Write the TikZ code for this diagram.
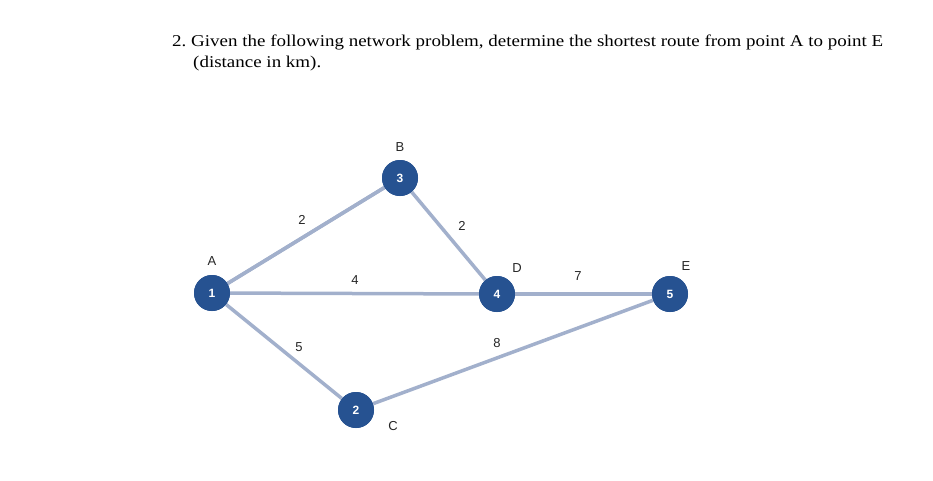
\documentclass[tikz,border=0pt]{standalone}
\usepackage{fontspec}
\setmainfont{Liberation Serif}
\newfontfamily\lsans{Liberation Sans}
\definecolor{nodeblue}{RGB}{38,82,145}
\definecolor{edgeblue}{RGB}{162,176,204}
\begin{document}
\begin{tikzpicture}[x=1pt,y=-1pt,
  vtx/.style={circle,fill=nodeblue,minimum size=36pt,inner sep=0pt,text=white,font=\lsans\bfseries\fontsize{12}{14}\selectfont},
  edge/.style={draw=edgeblue,line width=3.5pt},
  lbl/.style={font=\lsans\fontsize{13}{15}\selectfont,text=black!85},
  ttl/.style={anchor=base west,font=\fontsize{16.5}{19}\selectfont,xscale=1.15,inner sep=0pt}]
\useasboundingbox[fill=white] (0,0) rectangle (933,480);
\node[ttl] (t1) at (172,46) {2.\ Given the following network problem, determine the shortest route from point A to point E};
\node[ttl] (t2) at (193,67) {(distance in km).};
\draw[edge] (212,293) -- (400,178);
\node[vtx] (n1) at (212,293) {1};
\node[vtx] (n3) at (400,178) {3};
\node[vtx] (n4) at (497,294) {4};
\node[vtx] (n5) at (670,294) {5};
\node[vtx] (n2) at (356,410) {2};
\draw[edge] (n1) -- (n3);
\draw[edge] (n1) -- (n4);
\draw[edge] (n1) -- (n2);
\draw[edge] (n3) -- (n4);
\draw[edge] (n4) -- (n5);
\draw[edge] (n2) -- (n5);
\node[vtx] at (n1) {1};
\node[vtx] at (n3) {3};
\node[vtx] at (n4) {4};
\node[vtx] at (n5) {5};
\node[vtx] at (n2) {2};
\node[lbl] (lb) at (400,147) {B};
\node[lbl] (la) at (212,261) {A};
\node[lbl] (ld) at (517,268) {D};
\node[lbl] (le) at (686,266) {E};
\node[lbl] (lc) at (393,426) {C};
\node[lbl] (w13) at (302,220) {2};
\node[lbl] (w34) at (462,226) {2};
\node[lbl] (w14) at (355,280) {4};
\node[lbl] (w45) at (578,276) {7};
\node[lbl] (w12) at (299,347) {5};
\node[lbl] (w25) at (497,343) {8};
\end{tikzpicture}
\end{document}
